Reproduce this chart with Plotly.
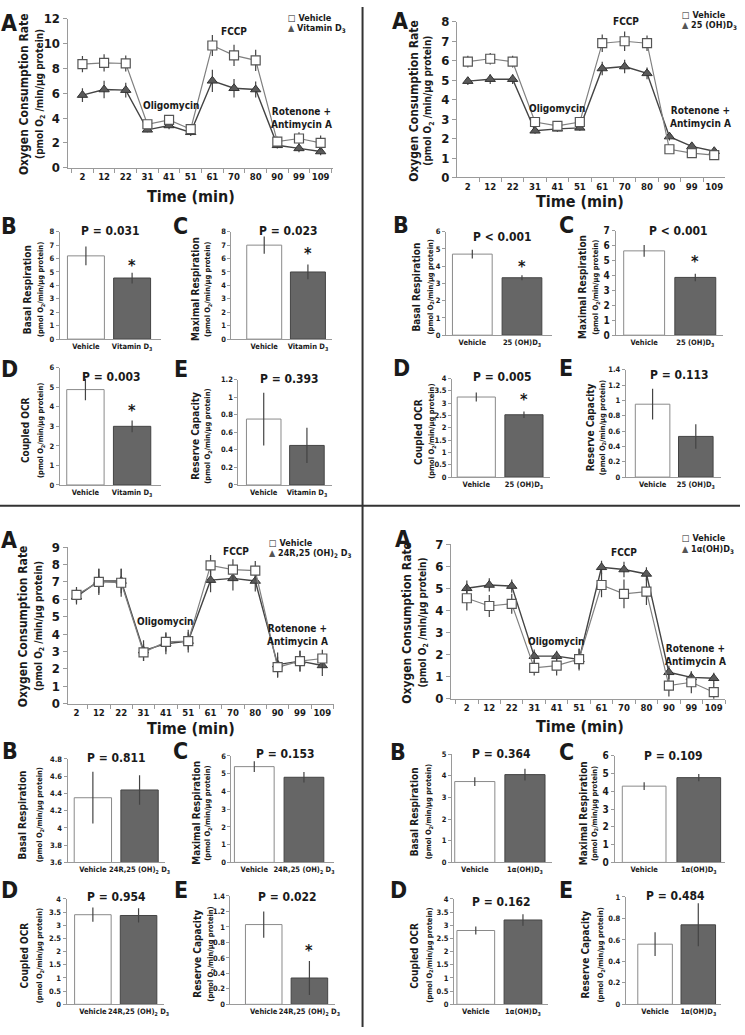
import plotly.graph_objects as go

W, H = 745, 1035
FONT = "Liberation Sans Narrow, DejaVu Sans Condensed, Arial Narrow, sans-serif"

# ---------------- data ----------------
times = ["2", "12", "22", "31", "41", "51", "61", "70", "80", "90", "99", "109"]

treat_names = ["Vitamin D<sub>3</sub>", "25 (OH)D<sub>3</sub>",
               "24R,25 (OH)<sub>2</sub> D<sub>3</sub>", "1\u03b1(OH)D<sub>3</sub>"]

# Panel A time courses (Vehicle / treatment)
q1_veh = [8.35, 8.45, 8.4, 3.5, 3.85, 3.1, 9.85, 9.05, 8.65, 2.1, 2.35, 2.0]
q1_veh_err = [0.65, 0.7, 0.65, 0.3, 0.35, 0.3, 0.85, 0.85, 0.85, 0.4, 0.5, 0.6]
q1_trt = [5.85, 6.3, 6.25, 3.05, 3.4, 2.85, 7.0, 6.4, 6.3, 1.8, 1.55, 1.3]
q1_trt_err = [0.55, 0.7, 0.6, 0.2, 0.3, 0.3, 0.9, 0.75, 0.65, 0.25, 0.3, 0.3]

q2_veh = [5.95, 6.1, 5.95, 2.85, 2.65, 2.85, 6.9, 7.0, 6.9, 1.45, 1.25, 1.15]
q2_veh_err = [0.3, 0.3, 0.3, 0.15, 0.15, 0.15, 0.45, 0.5, 0.4, 0.1, 0.15, 0.15]
q2_trt = [4.95, 5.05, 5.05, 2.4, 2.5, 2.55, 5.6, 5.7, 5.35, 2.1, 1.6, 1.35]
q2_trt_err = [0.2, 0.25, 0.25, 0.15, 0.15, 0.15, 0.35, 0.35, 0.3, 0.2, 0.15, 0.15]

q3_veh = [6.25, 7.0, 6.95, 2.95, 3.55, 3.6, 7.95, 7.7, 7.65, 2.1, 2.45, 2.6]
q3_veh_err = [0.45, 0.75, 0.8, 0.5, 0.55, 0.65, 0.6, 0.6, 0.55, 0.6, 0.6, 0.5]
q3_trt = [6.15, 7.05, 7.05, 3.05, 3.45, 3.6, 7.1, 7.2, 7.05, 2.25, 2.45, 2.2]
q3_trt_err = [0.45, 0.7, 0.7, 0.6, 0.6, 0.5, 0.7, 0.7, 0.6, 0.7, 0.6, 0.6]

q4_veh = [4.55, 4.2, 4.3, 1.4, 1.5, 1.8, 5.15, 4.75, 4.85, 0.6, 0.75, 0.3]
q4_veh_err = [0.55, 0.5, 0.45, 0.35, 0.45, 0.45, 0.55, 0.65, 0.6, 0.5, 0.5, 0.4]
q4_trt = [5.0, 5.15, 5.1, 1.93, 1.93, 1.78, 5.95, 5.85, 5.65, 1.2, 0.97, 0.93]
q4_trt_err = [0.35, 0.3, 0.3, 0.3, 0.25, 0.5, 0.3, 0.35, 0.3, 0.3, 0.25, 0.25]

# Bar panels [Vehicle, treatment]
q1_basal, q1_basal_err = [6.2, 4.55], [0.7, 0.4]
q1_max, q1_max_err = [7.0, 5.0], [0.65, 0.55]
q1_coupled, q1_coupled_err = [4.88, 3.0], [0.55, 0.3]
q1_reserve, q1_reserve_err = [0.75, 0.45], [0.3, 0.2]

q2_basal, q2_basal_err = [4.7, 3.33], [0.25, 0.15]
q2_max, q2_max_err = [5.65, 3.87], [0.4, 0.25]
q2_coupled, q2_coupled_err = [3.25, 2.53], [0.18, 0.13]
q2_reserve, q2_reserve_err = [0.95, 0.53], [0.2, 0.16]

q3_basal, q3_basal_err = [4.35, 4.44], [0.3, 0.17]
q3_max, q3_max_err = [5.4, 4.8], [0.3, 0.3]
q3_coupled, q3_coupled_err = [3.4, 3.37], [0.27, 0.27]
q3_reserve, q3_reserve_err = [1.03, 0.34], [0.17, 0.22]

q4_basal, q4_basal_err = [3.73, 4.05], [0.2, 0.27]
q4_max, q4_max_err = [4.3, 4.78], [0.22, 0.2]
q4_coupled, q4_coupled_err = [2.8, 3.2], [0.15, 0.22]
q4_reserve, q4_reserve_err = [0.56, 0.74], [0.11, 0.2]

p_values = [["P = 0.031", "P = 0.023", "P = 0.003", "P = 0.393"],
            ["P < 0.001", "P < 0.001", "P = 0.005", "P = 0.113"],
            ["P = 0.811", "P = 0.153", "P = 0.954", "P = 0.022"],
            ["P = 0.364", "P = 0.109", "P = 0.162", "P = 0.484"]]

# ---------------- helpers ----------------
fig = go.Figure()
layout = {}
annotations = []
shapes = []
counter = [0]

AX_COLOR = "#9a9a9a"
TXT = "#1a1a1a"


def fx(p):
    return p / W


def fy(p):
    return 1 - p / H


def new_axes():
    counter[0] += 1
    i = counter[0]
    xa = "xaxis" if i == 1 else f"xaxis{i}"
    ya = "yaxis" if i == 1 else f"yaxis{i}"
    xr = "x" if i == 1 else f"x{i}"
    yr = "y" if i == 1 else f"y{i}"
    return xa, ya, xr, yr


def text(x, y, s, size, angle=0, xanchor="center", yanchor="middle", xref="paper", yref="paper"):
    annotations.append(dict(
        x=x, y=y, xref=xref, yref=yref, text=s, showarrow=False, textangle=angle,
        xanchor=xanchor, yanchor=yanchor,
        font=dict(family=FONT, size=size, color=TXT, weight="bold")))


def line_panel(xl, xr_px, yt, yb, first_c, step, yrange, dtick, veh, veh_err, trt, trt_err,
               trt_name, legend_pos, ann):
    xa, ya, xref, yref = new_axes()
    x0 = (xl - first_c) / step
    x1 = (xr_px - first_c) / step
    layout[xa] = dict(domain=[fx(xl), fx(xr_px)], anchor=yref, type="category",
                      range=[x0, x1], showline=True, linecolor=AX_COLOR, linewidth=1,
                      ticks="outside", tickson="boundaries", ticklen=4, tickcolor=AX_COLOR,
                      showgrid=False, zeroline=False, tickangle=0,
                      tickfont=dict(family=FONT, size=9.5, color=TXT, weight="bold"))
    layout[ya] = dict(domain=[fy(yb), fy(yt)], anchor=xref, range=yrange, dtick=dtick,
                      showline=True, linecolor=AX_COLOR, linewidth=1, ticks="outside",
                      ticklen=4, tickcolor=AX_COLOR, showgrid=False, zeroline=False,
                      tickfont=dict(family=FONT, size=13, color=TXT, weight="bold"))
    fig.add_trace(go.Scatter(
        x=times, y=trt, mode="lines+markers", name=trt_name, showlegend=False,
        xaxis=xref, yaxis=yref,
        line=dict(color="#444444", width=1.4),
        marker=dict(symbol="triangle-up", size=9, color="#5a5a5a",
                    line=dict(color="#333333", width=1)),
        error_y=dict(type="data", array=trt_err, width=0, color="#444444", thickness=1.2)))
    fig.add_trace(go.Scatter(
        x=times, y=veh, mode="lines+markers", name="Vehicle", showlegend=False,
        xaxis=xref, yaxis=yref,
        line=dict(color="#808080", width=1.2),
        marker=dict(symbol="square", size=9, color="white",
                    line=dict(color="#555555", width=1.2)),
        error_y=dict(type="data", array=veh_err, width=0, color="#444444", thickness=1.2)))
    # legend drawn as text
    lx, ly = legend_pos
    text(fx(lx), fy(ly), "\u25a1 Vehicle", 9, xanchor="left")
    text(fx(lx), fy(ly + 11), "<span style='color:#555'>\u25b2</span> " + trt_name, 9,
         xanchor="left")
    # drug annotations
    for (cx, cy, s) in ann:
        text(cx, cy, s, 10, xref=xref, yref=yref)
    # axis titles
    ymid = fy((yt + yb) / 2 + 1)
    text(fx(xl - 44), ymid, "Oxygen Consumption Rate", 12, angle=-90)
    text(fx(xl - 28), ymid, "(pmol O<sub>2</sub> /min/\u00b5g protein)", 10, angle=-90)


def bar_panel(axis_px, c1, c2, right_px, yt, yb, yrange, dtick, vals, errs, treat,
              title, offs, star_y=None, tick_size=7.5):
    xa, ya, xref, yref = new_axes()
    u = c2 - c1
    layout[xa] = dict(domain=[fx(axis_px), fx(right_px)], anchor=yref, type="category",
                      range=[(axis_px - c1) / u, (right_px - c1) / u],
                      showline=True, linecolor=AX_COLOR, linewidth=1, ticks="",
                      showgrid=False, zeroline=False, tickangle=0,
                      tickfont=dict(family=FONT, size=7.5, color=TXT, weight="bold"))
    layout[ya] = dict(domain=[fy(yb), fy(yt)], anchor=xref, range=yrange, dtick=dtick,
                      showline=True, linecolor=AX_COLOR, linewidth=1, ticks="outside",
                      ticklen=3, tickcolor=AX_COLOR, showgrid=False, zeroline=False,
                      tickfont=dict(family=FONT, size=tick_size, color=TXT, weight="bold"))
    cats = ["Vehicle", treat]
    fig.add_trace(go.Bar(
        x=cats, y=vals, xaxis=xref, yaxis=yref, showlegend=False, width=0.8,
        marker=dict(color=["white", "#666666"], line=dict(color=["#8a8a8a", "#444444"], width=1)),
        error_y=dict(type="data", array=errs, width=0, color="#444444", thickness=1.2)))
    if star_y is not None:
        text(1, star_y, "*", 16, xref=xref, yref=yref)
    ymid = fy((yt + yb) / 2 + 4)
    text(fx(axis_px + offs[0]), ymid, title, 10, angle=-90)
    text(fx(axis_px + offs[1]), ymid, "(pmol O<sub>2</sub>/min/\u00b5g protein)", 7.5, angle=-90)


# ---------------- Quadrant 1 : Vitamin D3 ----------------
line_panel(68, 335, 12, 163, 83, 21.8, [0, 12], 2, q1_veh, q1_veh_err, q1_trt, q1_trt_err,
           treat_names[0], (288, 11),
           [(4.1, 5.0, "Oligomycin"), (7.0, 11.0, "FCCP"),
            (10.1, 4.0, "Rotenone +<br>Antimycin A")])
bar_panel(60, 86.5, 133, 162, 228, 337, [0, 8], 1, q1_basal, q1_basal_err, treat_names[0],
          "Basal Respiration", (-32, -18), star_y=5.5)
bar_panel(233, 266, 310, 334, 228, 337, [0, 8], 1, q1_max, q1_max_err, treat_names[0],
          "Maximal Respiration", (-36, -23), star_y=6.4)
bar_panel(60, 86, 133, 162, 366, 485, [0, 6], 1, q1_coupled, q1_coupled_err, treat_names[0],
          "Coupled OCR", (-35, -18), star_y=3.8)
bar_panel(240, 265.5, 309, 334, 378, 485, [0, 1.2], 0.2, q1_reserve, q1_reserve_err,
          treat_names[0], "Reserve Capacity", (-43, -30))

# ---------------- Quadrant 2 : 25(OH)D3 ----------------
line_panel(460, 730, 15, 173, 471, 22.55, [0, 8], 1, q2_veh, q2_veh_err, q2_trt, q2_trt_err,
           treat_names[1], (685, 8),
           [(4.0, 3.55, "Oligomycin"), (7.05, 8.0, "FCCP"),
            (10.4, 3.1, "Rotenone +<br>Antimycin A")])
bar_panel(449, 475.5, 525.5, 556, 228, 333, [0, 6], 1, q2_basal, q2_basal_err, treat_names[1],
          "Basal Respiration", (-30, -15), star_y=4.0)
bar_panel(620, 648.5, 700, 728, 227, 333, [0, 7], 1, q2_max, q2_max_err, treat_names[1],
          "Maximal Respiration", (-33, -20), star_y=4.95, tick_size=10)
bar_panel(455, 479.5, 527.5, 554, 377, 477, [0, 4], 0.5, q2_coupled, q2_coupled_err,
          treat_names[1], "Coupled OCR", (-33, -20), star_y=3.15)
bar_panel(630, 657, 700.5, 726, 368, 477, [0, 1.4], 0.2, q2_reserve, q2_reserve_err,
          treat_names[1], "Reserve Capacity", (-36, -23))

# ---------------- Quadrant 3 : 24R,25(OH)2D3 ----------------
line_panel(68, 336, 548, 707, 77, 22.5, [0, 9], 1, q3_veh, q3_veh_err, q3_trt, q3_trt_err,
           treat_names[2], (269, 544),
           [(4.0, 4.75, "Oligomycin"), (7.15, 8.75, "FCCP"),
            (9.9, 3.95, "Rotenone +<br>Antimycin A")])
bar_panel(68, 93.5, 140.5, 166, 763, 868, [3.6, 4.8], 0.2, q3_basal, q3_basal_err,
          treat_names[2], "Basal Respiration", (-45, -28))
bar_panel(233, 256, 306, 336, 760, 868, [0, 6], 1, q3_max, q3_max_err, treat_names[2],
          "Maximal Respiration", (-36, -23))
bar_panel(67, 93.5, 139.5, 165, 905, 1012, [0, 4], 0.5, q3_coupled, q3_coupled_err,
          treat_names[2], "Coupled OCR", (-42, -27))
bar_panel(232, 265.5, 311.5, 337, 902, 1012, [0, 1.4], 0.2, q3_reserve, q3_reserve_err,
          treat_names[2], "Reserve Capacity", (-34, -19), star_y=0.69)

# ---------------- Quadrant 4 : 1a(OH)D3 ----------------
line_panel(454, 730, 545, 702, 470, 22.6, [0, 7], 1, q4_veh, q4_veh_err, q4_trt, q4_trt_err,
           treat_names[3], (685, 539),
           [(4.0, 2.6, "Oligomycin"), (7.0, 6.6, "FCCP"),
            (10.2, 2.0, "Rotenone +<br>Antimycin A")])
bar_panel(455, 478, 528.5, 556, 758, 868, [0, 5], 1, q4_basal, q4_basal_err, treat_names[3],
          "Basal Respiration", (-38, -23))
bar_panel(619, 648.5, 703.5, 730, 760, 868, [0, 6], 1, q4_max, q4_max_err, treat_names[3],
          "Maximal Respiration", (-32, -20), tick_size=10)
bar_panel(457, 479, 526.5, 552, 905, 1012, [0, 4], 0.5, q4_coupled, q4_coupled_err,
          treat_names[3], "Coupled OCR", (-40, -25))
bar_panel(630, 659.5, 703, 726, 903, 1012, [0, 1], 0.2, q4_reserve, q4_reserve_err,
          treat_names[3], "Reserve Capacity", (-40, -25))

# ---------------- panel letters, P values, time titles ----------------
letters = [("A", 9, 16), ("B", 9, 222), ("C", 182, 222), ("D", 10, 367), ("E", 182, 367),
           ("A", 403, 14), ("B", 404, 221), ("C", 570, 221), ("D", 404, 366), ("E", 570, 366),
           ("A", 9, 541), ("B", 10, 755), ("C", 182, 755), ("D", 10, 896), ("E", 182, 896),
           ("A", 406, 540), ("B", 401, 756), ("C", 570, 756), ("D", 401, 896), ("E", 570, 896)]
for (s, x, y) in letters:
    text(fx(x), fy(y), s, 23)

p_pos = [[(111, 227), (290, 227), (112, 375), (291, 377)],
         [(506, 233), (683, 227), (506, 375), (684, 373)],
         [(117, 762), (287, 758), (117, 903), (289, 903)],
         [(505, 758), (678, 760), (505, 908), (680, 902)]]
for q in range(4):
    for k in range(4):
        x, y = p_pos[q][k]
        text(fx(x), fy(y), p_values[q][k], 12)

for (x, y) in [(192, 192), (584, 197), (192, 732), (584, 730)]:
    text(fx(x), fy(y), "Time (min)", 16)

# separators
shapes.append(dict(type="line", xref="paper", yref="paper", x0=fx(365), x1=fx(365),
                   y0=0, y1=1, line=dict(color="#333333", width=2)))
shapes.append(dict(type="line", xref="paper", yref="paper", x0=0, x1=1,
                   y0=fy(506), y1=fy(506), line=dict(color="#333333", width=2)))

fig.update_layout(
    width=W, height=H, margin=dict(l=0, r=0, t=0, b=0),
    paper_bgcolor="white", plot_bgcolor="white", showlegend=False,
    font=dict(family=FONT, color=TXT, weight="bold"),
    annotations=annotations, shapes=shapes, bargap=0.2,
    **layout)

fig.write_html("out.html", config={"displayModeBar": False},
               post_script="document.body.style.margin='0px';document.body.style.overflow='hidden';")
